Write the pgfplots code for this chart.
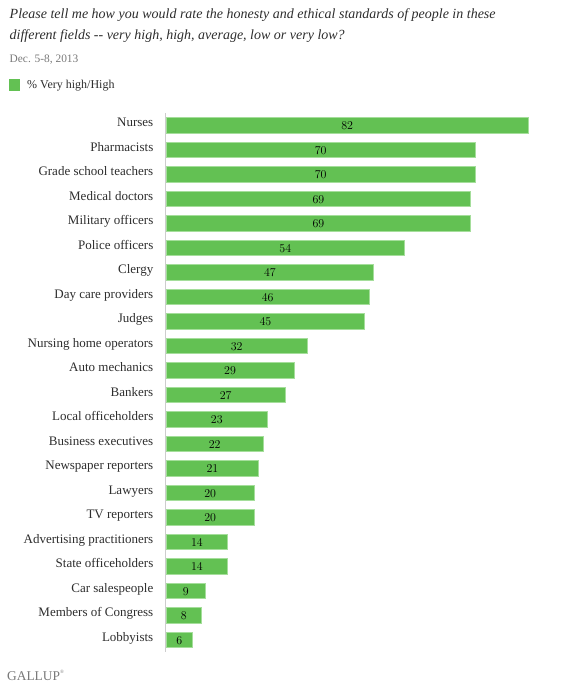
\documentclass[border=0pt]{standalone}
\usepackage{pgfplots}
\pgfplotsset{compat=1.18}
\usepackage{pgfplotstable}
\usepackage{fontspec}
\setmainfont{Liberation Serif}

\definecolor{barfill}{RGB}{99,193,83}
\definecolor{barline}{RGB}{165,222,155}
\definecolor{txt}{RGB}{45,45,45}
\definecolor{graytxt}{RGB}{120,120,120}
\definecolor{axisgray}{RGB}{205,205,205}

\pgfplotstableread[col sep=comma]{
idx,v,name
0,82,Nurses
1,70,Pharmacists
2,70,Grade school teachers
3,69,Medical doctors
4,69,Military officers
5,54,Police officers
6,47,Clergy
7,46,Day care providers
8,45,Judges
9,32,Nursing home operators
10,29,Auto mechanics
11,27,Bankers
12,23,Local officeholders
13,22,Business executives
14,21,Newspaper reporters
15,20,Lawyers
16,20,TV reporters
17,14,Advertising practitioners
18,14,State officeholders
19,9,Car salespeople
20,8,Members of Congress
21,6,Lobbyists
}\data

\begin{document}
\begin{tikzpicture}
\path[use as bounding box] (0,0) rectangle (580bp,687bp);

\node[anchor=base west, inner sep=0pt, text=txt, font=\itshape\fontsize{14bp}{16bp}\selectfont] at (9.5bp,668bp)
  {Please tell me how you would rate the honesty and ethical standards of people in these};
\node[anchor=base west, inner sep=0pt, text=txt, font=\itshape\fontsize{14bp}{16bp}\selectfont] at (9.5bp,647bp)
  {different fields -{}- very high, high, average, low or very low?};
\node[anchor=base west, inner sep=0pt, text=graytxt, font=\fontsize{11.4bp}{13bp}\selectfont] at (9.5bp,624bp)
  {Dec. 5-8, 2013};
\fill[barfill] (8.5bp,596bp) rectangle (19.5bp,607.5bp);
\node[anchor=base west, inner sep=0pt, text=txt, font=\fontsize{12bp}{14bp}\selectfont] at (27bp,598bp)
  {\% Very high/High};
\node[anchor=base west, inner sep=0pt, text=graytxt, font=\fontsize{13.4bp}{15bp}\selectfont] at (7bp,6.3bp)
  {GALLUP\raisebox{0.55em}{\fontsize{5bp}{6bp}\selectfont\textregistered}};

\begin{axis}[
  scale only axis,
  width=362.8bp, height=539bp,
  at={(165.5bp,34.75bp)}, anchor=south west,
  xmin=-0.12, xmax=82, ymin=-0.5, ymax=21.5,
  y dir=reverse,
  hide x axis,
  axis y line*=left,
  y axis line style={draw=axisgray, line width=1.1bp, -},
  ytick={0,...,21},
  yticklabels from table={\data}{name},
  major tick length=0pt,
  yticklabel style={font=\fontsize{13bp}{15bp}\selectfont, text=txt, inner sep=0pt,
    anchor=base east, xshift=-12bp, yshift=-1.4bp},
  clip=false,
]
\addplot[xbar, bar width=15.5bp, fill=barfill, draw=barline, line width=0.8bp]
  table[x=v, y=idx] {\data};
\addplot[draw=none, mark=none, nodes near coords, point meta=\thisrow{v},
  nodes near coords style={anchor=base, inner sep=0pt, yshift=-4bp, text=black, font=\fontsize{12.3bp}{14bp}\selectfont}]
  table[x expr=\thisrow{v}/2, y=idx] {\data};
\end{axis}
\end{tikzpicture}
\end{document}
